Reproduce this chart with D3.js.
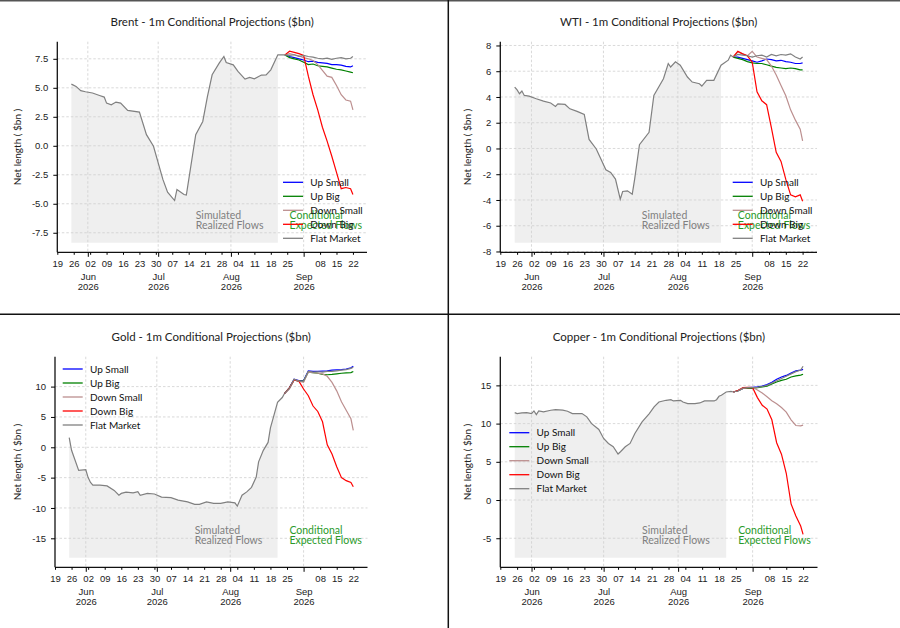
<!DOCTYPE html>
<html>
<head>
<meta charset="utf-8">
<script src="https://cdn.jsdelivr.net/npm/d3@7"></script>
<style>
  body { margin: 0; background: #fff; }
  svg { display: block; font-family: Lato, "DejaVu Sans", sans-serif; }
</style>
</head>
<body>
<svg id="chart" width="900" height="628"></svg>
<script>
// ---- data ----
const year = 2026;
const scenarios = ["Up Small", "Up Big", "Down Small", "Down Big", "Flat Market"];

const weekTicks = ["05-19","05-26","06-02","06-09","06-16","06-23","06-30","07-07","07-14","07-21",
                   "07-28","08-04","08-11","08-18","08-25","09-01","09-08","09-15","09-22"];
const monthTicks = ["06-01","07-01","08-01","09-01"];
const fillEnd = "08-21";
const realizedLabelDate = "07-17";
const expectedLabelDate = "08-26";

const projDates = ["08-24","08-26","08-28","08-30","09-01","09-03","09-05","09-07",
                   "09-09","09-11","09-13","09-15","09-17","09-19","09-21","09-22"];

// Brent
const brentHistDates = ["05-25","05-27","05-29","05-31","06-03","06-06","06-08","06-09","06-11","06-13",
  "06-15","06-18","06-23","06-26","06-29","07-03","07-05","07-08","07-09","07-12","07-13","07-17",
  "07-20","07-22","07-24","07-27","07-29","07-30","08-02","08-04","08-07","08-09","08-11","08-14",
  "08-16","08-18","08-21","08-24"];
const brentHist = [5.32,5.12,4.75,4.66,4.55,4.34,4.2,3.68,3.54,3.77,3.68,3.05,2.9,0.96,-0.04,-2.9,-4.0,
  -4.72,-3.77,-4.2,-4.25,0.96,2.1,4.26,6.12,7.13,7.7,7.18,6.98,6.41,5.75,5.9,5.78,6.1,6.12,6.55,7.84,7.84];
const brentUpSmall   = [7.84,7.7,7.6,7.5,7.4,7.25,7.3,7.2,7.15,7.1,7.0,7.0,6.95,6.85,6.8,6.9];
const brentUpBig     = [7.84,7.6,7.5,7.4,7.2,7.0,7.05,6.9,6.85,6.8,6.7,6.6,6.55,6.45,6.35,6.3];
const brentDownSmall = [7.84,7.95,7.85,7.75,7.6,7.5,7.35,7.0,6.5,6.0,5.9,5.2,4.4,3.95,3.85,3.1];
const brentDownBig   = [7.84,8.15,8.05,7.95,7.8,6.0,4.4,3.1,1.6,0.4,-0.9,-2.3,-3.7,-3.6,-3.7,-4.2];
const brentFlat      = [7.84,7.8,7.85,7.7,7.8,7.7,7.65,7.55,7.5,7.55,7.45,7.55,7.6,7.5,7.55,7.7];
const brentFloor = -8.36;
const brentTicks = [-7.5,-5,-2.5,0,2.5,5,7.5];

// WTI
const wtiHistDates = ["05-25","05-26","05-27","05-28","05-29","05-31","06-03","06-06","06-09","06-11",
  "06-12","06-15","06-17","06-20","06-23","06-25","06-28","07-02","07-04","07-06","07-08","07-09",
  "07-11","07-13","07-14","07-16","07-20","07-22","07-26","07-28","07-29","07-31","08-02","08-05",
  "08-07","08-10","08-11","08-13","08-16","08-19","08-22","08-23","08-24"];
const wtiHist = [4.77,4.55,4.25,4.46,4.12,4.07,3.86,3.68,3.53,3.27,3.47,3.42,3.08,2.88,2.64,0.7,-0.04,
  -1.65,-1.86,-2.38,-3.94,-3.34,-3.29,-3.55,-2.38,0.3,1.26,4.12,5.42,6.6,6.33,6.73,6.47,5.55,5.16,
  5.03,4.85,5.29,5.29,6.47,6.86,7.25,7.1];
const wtiUpSmall   = [7.1,7.1,7.0,6.9,6.8,6.7,6.8,6.95,6.9,6.8,6.85,6.75,6.7,6.6,6.6,6.65];
const wtiUpBig     = [7.1,7.0,6.9,6.75,6.65,6.6,6.6,6.5,6.4,6.3,6.25,6.2,6.25,6.2,6.1,6.1];
const wtiDownSmall = [7.1,7.5,7.35,7.2,7.55,7.1,7.0,6.9,6.4,5.7,4.9,4.1,3.0,2.2,1.5,0.6];
const wtiDownBig   = [7.1,7.55,7.35,7.2,6.7,4.4,3.7,3.4,1.6,-0.3,-1.0,-2.4,-3.6,-3.75,-3.6,-4.1];
const wtiFlat      = [7.1,7.3,7.25,7.2,7.1,7.2,7.25,7.1,7.3,7.2,7.3,7.25,7.35,7.1,6.95,7.1];
const wtiFloor = -7.32;
const wtiTicks = [-8,-6,-4,-2,0,2,4,6,8];

// Gold
const goldHistDates = ["05-25","05-26","05-27","05-29","06-01","06-02","06-03","06-04","06-07","06-10",
  "06-13","06-15","06-16","06-18","06-21","06-23","06-24","06-27","06-30","07-03","07-07","07-10",
  "07-14","07-17","07-19","07-22","07-25","07-28","07-31","08-03","08-04","08-06","08-08","08-10",
  "08-12","08-13","08-15","08-17","08-18","08-19","08-21","08-23","08-24"];
const goldHist = [1.58,-0.5,-1.6,-3.8,-3.7,-5.0,-5.8,-6.25,-6.25,-6.36,-7.1,-7.9,-7.6,-7.4,-7.5,-7.3,
  -7.9,-7.6,-7.7,-8.2,-8.3,-8.7,-9.0,-9.4,-9.4,-9.0,-9.25,-9.25,-9.0,-9.15,-9.7,-7.9,-7.35,-6.6,-4.9,
  -2.4,-0.5,0.8,3.2,4.6,7.4,8.2,8.9];
const goldUpSmall   = [8.9,9.8,11.2,11.0,11.0,12.6,12.5,12.5,12.55,12.6,12.7,12.75,12.8,12.9,13.1,13.35];
const goldUpBig     = [8.9,9.8,11.1,10.9,10.9,12.4,12.3,12.2,12.0,11.95,12.0,12.1,12.2,12.25,12.3,12.5];
const goldDownSmall = [8.9,9.6,11.1,10.9,10.7,12.4,12.3,12.2,12.1,11.7,10.7,9.3,7.5,6.1,4.7,2.8];
const goldDownBig   = [8.9,9.8,11.1,10.9,9.6,8.5,6.8,5.9,4.2,0.4,-1.1,-3.2,-5.0,-5.5,-5.8,-6.5];
const goldFlat      = [8.9,9.7,11.2,10.9,10.9,12.5,12.4,12.45,12.4,12.5,12.5,12.6,12.7,12.8,13.0,13.2];
const goldFloor = -18.2;
const goldTicks = [-15,-10,-5,0,5,10];

// Copper
const copperHistDates = ["05-25","05-26","05-28","05-30","06-01","06-02","06-03","06-04","06-06","06-09",
  "06-11","06-14","06-16","06-18","06-22","06-24","06-26","06-29","07-01","07-03","07-05","07-07",
  "07-08","07-10","07-12","07-14","07-17","07-20","07-22","07-24","07-27","07-29","07-30","08-02",
  "08-03","08-05","08-08","08-10","08-12","08-16","08-17","08-18","08-19","08-21","08-23","08-24"];
const copperHist = [11.44,11.3,11.4,11.44,11.3,11.66,11.18,11.66,11.53,11.75,11.83,11.75,11.62,11.31,
  11.31,10.88,10.0,9.23,8.06,7.4,6.97,6.02,6.32,6.97,7.4,8.7,10.23,11.31,12.18,12.83,13.05,13.13,
  12.96,13.05,12.83,12.61,12.61,12.7,12.96,12.96,13.13,13.57,13.7,14.13,14.22,14.13];
const copperUpSmall   = [14.13,14.3,14.6,14.7,14.75,14.8,14.9,15.1,15.4,15.8,16.1,16.3,16.6,16.9,17.0,17.1];
const copperUpBig     = [14.13,14.3,14.6,14.65,14.6,14.7,14.8,14.9,15.2,15.45,15.65,15.8,16.1,16.25,16.35,16.45];
const copperDownSmall = [14.13,14.3,14.6,14.7,14.75,14.4,14.0,13.5,13.0,12.6,12.1,11.5,10.5,9.75,9.7,9.8];
const copperDownBig   = [14.13,14.35,14.7,14.75,14.7,13.4,12.4,11.9,10.5,7.5,6.0,3.5,-0.5,-2.1,-3.4,-4.5];
const copperFlat      = [14.13,14.3,14.65,14.7,14.7,14.75,14.85,15.0,15.3,15.6,15.9,16.2,16.5,16.8,17.0,17.5];
const copperFloor = -7.55;
const copperTicks = [-5,0,5,10,15];

// ---- styles / layout ----
const colors = {
  "Up Small": "#0000ff", "Up Big": "#008000", "Down Small": "#bc8f8f",
  "Down Big": "#ff0000", "Flat Market": "#808080"
};
const textDark = "#222";

const parse = s => d3.timeParse("%Y-%m-%d")(year + "-" + s);

const panels = [
  { title: "Brent - 1m Conditional Projections ($bn)", histDates: brentHistDates, hist: brentHist,
    proj: [brentUpSmall, brentUpBig, brentDownSmall, brentDownBig, brentFlat], floor: brentFloor,
    ticks: brentTicks, fmt: ".1f",
    box: { left: 57.3, right: 367, top: 41.7, bottom: 252.3, col: 0 }, legend: { dx: 225.7, dy: 140.6 } },
  { title: "WTI - 1m Conditional Projections ($bn)", histDates: wtiHistDates, hist: wtiHist,
    proj: [wtiUpSmall, wtiUpBig, wtiDownSmall, wtiDownBig, wtiFlat], floor: wtiFloor,
    ticks: wtiTicks, fmt: "d",
    box: { left: 500.3, right: 817, top: 41.7, bottom: 252.3, col: 450 }, legend: { dx: 232.4, dy: 140.6 } },
  { title: "Gold - 1m Conditional Projections ($bn)", histDates: goldHistDates, hist: goldHist,
    proj: [goldUpSmall, goldUpBig, goldDownSmall, goldDownBig, goldFlat], floor: goldFloor,
    ticks: goldTicks, fmt: "d",
    box: { left: 55, right: 367.5, top: 356.7, bottom: 567.3, col: 0 }, legend: { dx: 7.7, dy: 12.3 } },
  { title: "Copper - 1m Conditional Projections ($bn)", histDates: copperHistDates, hist: copperHist,
    proj: [copperUpSmall, copperUpBig, copperDownSmall, copperDownBig, copperFlat], floor: copperFloor,
    ticks: copperTicks, fmt: "d",
    box: { left: 500.3, right: 817.5, top: 356.7, bottom: 567.3, col: 450 }, legend: { dx: 9, dy: 76 } }
];

const svg = d3.select("#chart");

// frame lines between panels
svg.append("line").attr("x1", 0).attr("x2", 900).attr("y1", 0.75).attr("y2", 0.75)
  .attr("stroke", "#555").attr("stroke-width", 1.5);
svg.append("line").attr("x1", 448.3).attr("x2", 448.3).attr("y1", 0).attr("y2", 628)
  .attr("stroke", "#111").attr("stroke-width", 1.5);
svg.append("line").attr("x1", 0).attr("x2", 900).attr("y1", 314.3).attr("y2", 314.3)
  .attr("stroke", "#111").attr("stroke-width", 1.5);

panels.forEach(drawPanel);

function drawPanel(p) {
  const b = p.box;
  const hist = p.histDates.map((d, i) => ({ date: parse(d), value: p.hist[i] }));
  const pDates = projDates.map(parse);
  const series = p.proj.map((vals, k) => ({
    name: scenarios[k],
    values: vals.map((v, i) => ({ date: pDates[i], value: v }))
  }));

  // matplotlib-like 5% margins
  const allDates = hist.map(d => d.date).concat(pDates);
  const allVals = p.hist.concat(...p.proj, [p.floor]);
  const [d0, d1] = d3.extent(allDates);
  const padT = (d1 - d0) * 0.05;
  const [v0, v1] = d3.extent(allVals);
  const padV = (v1 - v0) * 0.05;

  const x = d3.scaleTime().domain([new Date(+d0 - padT), new Date(+d1 + padT)]).range([b.left, b.right]);
  const y = d3.scaleLinear().domain([v0 - padV, v1 + padV]).range([b.bottom, b.top]);

  const g = svg.append("g");

  // shaded realized period
  const fillData = hist.filter(d => d.date <= parse(fillEnd));
  g.append("path")
    .datum(fillData)
    .attr("fill", "#efefef")
    .attr("d", d3.area().x(d => x(d.date)).y0(y(p.floor)).y1(d => y(d.value)));

  // grid
  g.append("g")
    .selectAll("line")
    .data(p.ticks)
    .join("line")
    .attr("x1", b.left).attr("x2", b.right)
    .attr("y1", d => y(d)).attr("y2", d => y(d))
    .attr("stroke", "#cfcfcf").attr("stroke-width", 0.8).attr("stroke-dasharray", "2.5,2");
  g.append("g")
    .selectAll("line")
    .data(monthTicks.map(parse))
    .join("line")
    .attr("x1", d => x(d)).attr("x2", d => x(d))
    .attr("y1", b.top).attr("y2", b.bottom)
    .attr("stroke", "#cfcfcf").attr("stroke-width", 0.8).attr("stroke-dasharray", "2.5,2");

  const line = d3.line().x(d => x(d.date)).y(d => y(d.value));

  // realized history
  g.append("path").datum(hist)
    .attr("fill", "none").attr("stroke", colors["Flat Market"]).attr("stroke-width", 1.2)
    .attr("d", line);

  // conditional projections
  g.append("g").selectAll("path")
    .data(series)
    .join("path")
    .attr("fill", "none")
    .attr("stroke", d => colors[d.name])
    .attr("stroke-width", 1.2)
    .attr("d", d => line(d.values));

  // annotations
  const annotY1 = b.bottom - 33.5, annotY2 = b.bottom - 23.5;
  const ann = g.append("g").attr("font-size", 10.5);
  [["Simulated", "Realized Flows", realizedLabelDate, "#808080"],
   ["Conditional", "Expected Flows", expectedLabelDate, "#2a9a2a"]].forEach(([l1, l2, d, c]) => {
    ann.append("text").attr("x", x(parse(d))).attr("y", annotY1).attr("fill", c).text(l1);
    ann.append("text").attr("x", x(parse(d))).attr("y", annotY2).attr("fill", c).text(l2);
  });

  // legend (no frame)
  const lg = g.append("g")
    .attr("transform", `translate(${b.left + p.legend.dx},${b.top + p.legend.dy})`)
    .attr("font-size", 10);
  scenarios.forEach((s, i) => {
    const row = lg.append("g").attr("transform", `translate(0,${i * 14})`);
    row.append("line").attr("x1", 0).attr("x2", 20).attr("stroke", colors[s]).attr("stroke-width", 1.3);
    row.append("text").attr("x", 27.3).attr("y", 3.5).attr("fill", "#111").text(s);
  });

  // y axis
  const fmt = d3.format(p.fmt);
  const yAxis = g.append("g")
    .attr("transform", `translate(${b.left},0)`)
    .call(d3.axisLeft(y).tickValues(p.ticks).tickSize(4).tickPadding(5).tickSizeOuter(0)
      .tickFormat(d => fmt(d).replace("\u2212", "-")));
  yAxis.select(".domain").attr("stroke", "#111").attr("stroke-width", 1.3)
    .attr("d", `M0,${b.top}V${b.bottom}`);
  yAxis.selectAll("text").attr("font-size", 9.5).attr("fill", textDark).attr("font-family", null);

  // x axis: weekly minor ticks, monthly major ticks
  const monthDates = monthTicks.map(parse);
  const minor = weekTicks.map(parse).filter(d => !monthDates.some(m => +m === +d));
  const xMinor = g.append("g")
    .attr("transform", `translate(0,${b.bottom})`)
    .call(d3.axisBottom(x).tickValues(minor).tickSize(2.5).tickPadding(5).tickSizeOuter(0)
      .tickFormat(d3.timeFormat("%d")));
  xMinor.select(".domain").attr("stroke", "#111").attr("stroke-width", 1.3)
    .attr("d", `M${b.left},0H${b.right}`);
  xMinor.selectAll("text").attr("font-size", 9.5).attr("fill", textDark).attr("font-family", null);

  const xMajor = g.append("g")
    .attr("transform", `translate(0,${b.bottom})`)
    .call(d3.axisBottom(x).tickValues(monthDates).tickSize(4.5).tickSizeOuter(0).tickFormat(""));
  xMajor.select(".domain").remove();
  xMajor.selectAll(".tick text").remove();
  xMajor.selectAll(".tick").each(function (d) {
    const t = d3.select(this).append("text")
      .attr("text-anchor", "middle").attr("font-size", 9.5).attr("fill", textDark);
    t.append("tspan").attr("x", 0).attr("y", 27.5).text(d3.timeFormat("%b")(d));
    t.append("tspan").attr("x", 0).attr("y", 37.5).text(d3.timeFormat("%Y")(d));
  });

  // y label
  g.append("text")
    .attr("transform", `translate(${b.col + 20.5},${(b.top + b.bottom) / 2}) rotate(-90)`)
    .attr("text-anchor", "middle").attr("font-size", 10).attr("fill", textDark)
    .text("Net length ( $bn )");

  // title
  g.append("text")
    .attr("x", (b.left + b.right) / 2).attr("y", b.top - 15.5)
    .attr("text-anchor", "middle").attr("font-size", 11.5).attr("fill", textDark)
    .text(p.title);
}
</script>
</body>
</html>
